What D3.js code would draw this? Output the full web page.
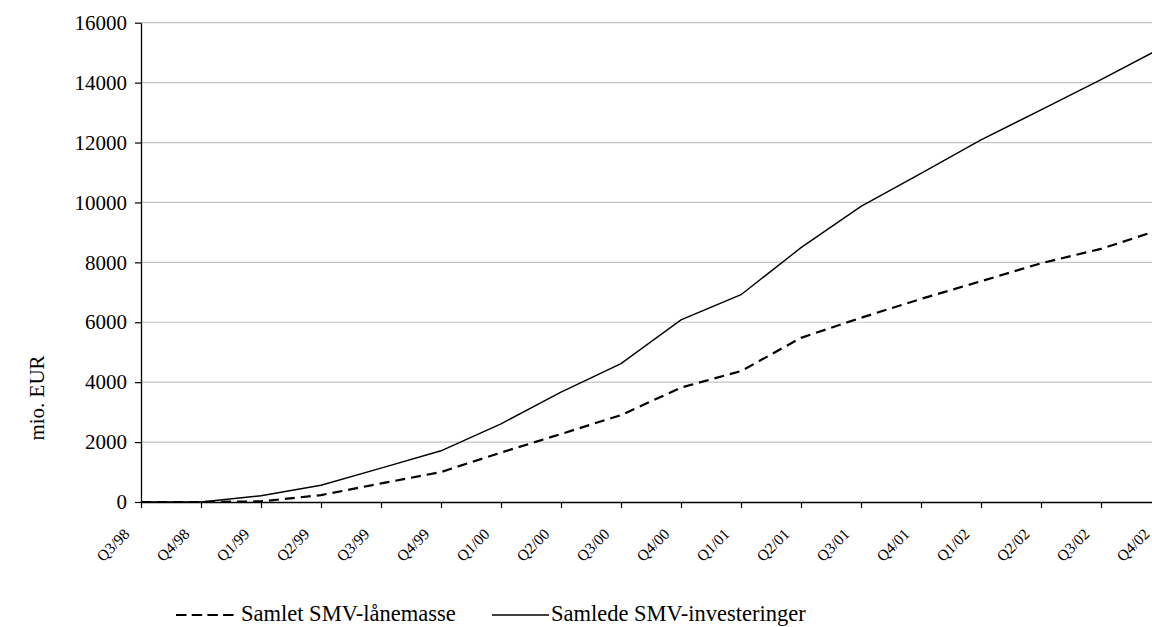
<!DOCTYPE html>
<html>
<head>
<meta charset="utf-8">
<script src="https://cdn.jsdelivr.net/npm/d3@7"></script>
<style>
html,body{margin:0;padding:0;background:#fff;overflow:hidden;}
svg{display:block;}
svg text{font-family:"Liberation Serif","Times New Roman","DejaVu Serif",serif !important;fill:#000;}
</style>
</head>
<body>
<svg id="chart" width="1152" height="627"></svg>
<script>
const categories = ["Q3/98","Q4/98","Q1/99","Q2/99","Q3/99","Q4/99","Q1/00","Q2/00","Q3/00","Q4/00","Q1/01","Q2/01","Q3/01","Q4/01","Q1/02","Q2/02","Q3/02","Q4/02"];
const laanemasse = [0,0,20,230,620,1000,1650,2270,2900,3820,4370,5480,6150,6780,7370,7970,8450,9100];
const investeringer = [0,0,210,560,1130,1710,2610,3670,4620,6080,6920,8490,9870,10970,12090,13090,14100,15150];
const yTicks = [0,2000,4000,6000,8000,10000,12000,14000,16000];
const seriesNames = ["Samlet SMV-lånemasse","Samlede SMV-investeringer"];
const yTitle = "mio. EUR";

const svg = d3.select("#chart");
const mLeft = 141, mTop = 22.7, mBottom = 502, step = 60;
const mRight = mLeft + step * (categories.length - 1);

const x = d3.scalePoint().domain(categories).range([mLeft, mRight]);
const y = d3.scaleLinear().domain([0,16000]).range([mBottom, mTop]);

// gridlines
svg.append("g").selectAll("line").data(yTicks.filter(d=>d>0)).join("line")
  .attr("x1", mLeft).attr("x2", mRight).attr("y1", d=>y(d)).attr("y2", d=>y(d))
  .attr("stroke", "#c4c4c4").attr("stroke-width", 1.2);

// y axis
const yAxis = svg.append("g").attr("transform", `translate(${mLeft},0)`)
  .call(d3.axisLeft(y).tickValues(yTicks).tickFormat(d3.format("d")).tickSize(6).tickSizeOuter(0));
yAxis.attr("font-family", null);
yAxis.select(".domain").attr("stroke","#000").attr("stroke-width",1.3);
yAxis.selectAll(".tick line").attr("stroke","#000").attr("stroke-width",1.2);
yAxis.selectAll(".tick text").style("font-size","21px").attr("x",-14);

// x axis
const xAxis = svg.append("g").attr("transform", `translate(0,${mBottom})`)
  .call(d3.axisBottom(x).tickSize(6).tickSizeOuter(0));
xAxis.attr("font-family", null);
xAxis.select(".domain").attr("stroke","#000").attr("stroke-width",1.3);
xAxis.selectAll(".tick line").attr("stroke","#000").attr("stroke-width",1.2);
xAxis.selectAll(".tick text")
  .style("font-size","15.5px")
  .attr("text-anchor","end").attr("dy",0).attr("y",0)
  .attr("transform","translate(-11,33) rotate(-45)");

// lines
const line = d3.line().x((d,i)=>x(categories[i])).y(d=>y(d));
svg.append("path").datum(investeringer).attr("d", line)
  .attr("fill","none").attr("stroke","#000").attr("stroke-width",1.4);
svg.append("path").datum(laanemasse).attr("d", line)
  .attr("fill","none").attr("stroke","#000").attr("stroke-width",2.2).attr("stroke-dasharray","10,6");

// y title
svg.append("text").attr("transform","translate(44,398) rotate(-90)")
  .attr("text-anchor","middle").style("font-size","21px").text(yTitle);

// legend
const ly = 615;
svg.append("line").attr("x1",176).attr("x2",234).attr("y1",ly).attr("y2",ly)
  .attr("stroke","#000").attr("stroke-width",2.2).attr("stroke-dasharray","10.5,5.2");
svg.append("text").attr("x",241).attr("y",ly+6).style("font-size","22.5px").text(seriesNames[0]);
svg.append("line").attr("x1",492).attr("x2",549).attr("y1",ly).attr("y2",ly)
  .attr("stroke","#000").attr("stroke-width",1.4);
svg.append("text").attr("x",551).attr("y",ly+6).style("font-size","22.5px").text(seriesNames[1]);
</script>
</body>
</html>
